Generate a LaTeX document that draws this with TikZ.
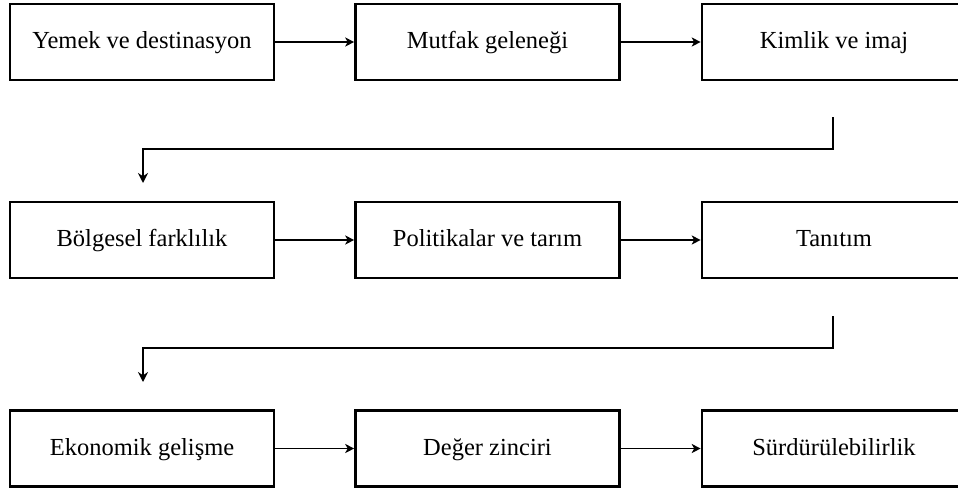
\documentclass[tikz,border=0pt]{standalone}
\usepackage{fontspec}
\setmainfont{Liberation Serif}
\usetikzlibrary{arrows.meta,calc}

\tikzset{
  stage/.style={draw=black, line width=2.6pt, minimum width=264pt, minimum height=76pt,
    inner sep=0pt, text height=17pt, text depth=4pt,
    font=\fontsize{24.5}{28}\selectfont, anchor=center},
  flow/.style={line width=1.9pt, -{Stealth[length=9pt,width=9pt,inset=2.5pt]}},
  turn/.style={line width=1.9pt, -{Stealth[length=10pt,width=10pt]}}
}

\begin{document}
\begin{tikzpicture}[x=1pt,y=-1pt]
  \useasboundingbox (0,0) rectangle (958,490);
  \clip (0,0) rectangle (958,490);

  % first row
  \node[stage] (yemek)  at (142,42)   {Yemek ve destinasyon};
  \node[stage] (mutfak) at (487.5,42) {Mutfak geleneği};
  \node[stage] (kimlik) at (834,42)   {Kimlik ve imaj};

  % second row
  \node[stage] (bolge)  at (142,240)   {Bölgesel farklılık};
  \node[stage] (polit)  at (487.5,240) {Politikalar ve tarım};
  \node[stage] (tanit)  at (834,240)   {Tanıtım};

  % third row
  \node[stage] (ekon)   at (142,448.5)   {Ekonomik gelişme};
  \node[stage] (deger)  at (487.5,448.5) {Değer zinciri};
  \node[stage] (surdur) at (834,448.5)   {Sürdürülebilirlik};

  % horizontal links within each row
  \draw[flow] (yemek) -- (mutfak);
  \draw[flow] (mutfak) -- (kimlik);
  \draw[flow] (bolge) -- (polit);
  \draw[flow] (polit) -- (tanit);
  \draw[flow] (ekon) -- (deger);
  \draw[flow] (deger) -- (surdur);

  % row-to-row links
  \coordinate (a1) at (833,117);
  \coordinate (a2) at (143,183);
  \draw[turn] (a1) -- (833,149) -- (143,149) -- (a2);

  \coordinate (b1) at (833,316);
  \coordinate (b2) at (143,382);
  \draw[turn] (b1) -- (833,348) -- (143,348) -- (b2);
\end{tikzpicture}
\end{document}
